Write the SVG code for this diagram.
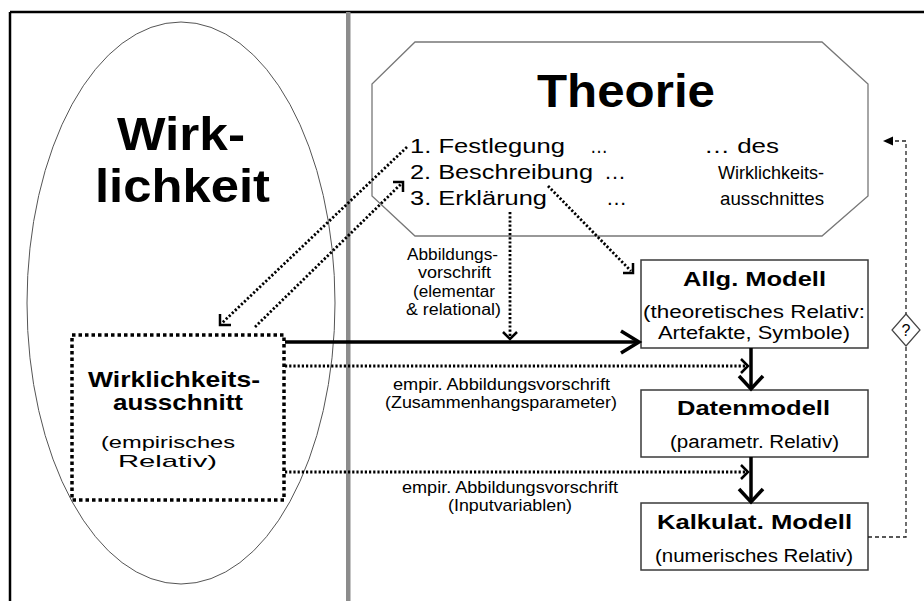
<svg xmlns="http://www.w3.org/2000/svg" width="924" height="601" viewBox="0 0 924 601">
<style>
text{font-family:"Liberation Sans",Arial,sans-serif;fill:#000}
.b{font-weight:bold}
.box{fill:#fff;stroke:#3a3a3a;stroke-width:1.5}
.thick{stroke:#000;stroke-width:3.5;fill:none}
.dot{stroke:#000;stroke-width:2.8;stroke-dasharray:2.2 2;fill:none}
.head{stroke:#000;stroke-width:2.5;fill:none}
.dash{stroke:#222;stroke-width:1.3;stroke-dasharray:4 3;fill:none}
</style>
<rect x="0" y="0" width="924" height="601" fill="#fff"/>
<g id="frame">
<path d="M10,12 H924 M10,12 V601" stroke="#000" stroke-width="2.5" fill="none"/>
<rect x="346" y="12" width="4.5" height="589" fill="#8c8c8c"/>
</g>
<g id="wirklichkeit">
<ellipse cx="181" cy="303" rx="154" ry="281" fill="none" stroke="#555" stroke-width="1"/>
<text class="b" x="117" y="150" font-size="46" textLength="128" lengthAdjust="spacingAndGlyphs">Wirk-</text>
<text class="b" x="95" y="202" font-size="46" textLength="175" lengthAdjust="spacingAndGlyphs">lichkeit</text>
</g>
<g id="theorie">
<polygon points="415,42 822,42 868,84 868,196 822,236 415,236 372,196 372,84" fill="#fff" stroke="#777" stroke-width="1.3"/>
<text class="b" x="537" y="107" font-size="46" textLength="178" lengthAdjust="spacingAndGlyphs">Theorie</text>
<text x="410" y="153" font-size="21" textLength="155" lengthAdjust="spacingAndGlyphs">1. Festlegung</text>
<text x="590" y="153" font-size="21" textLength="18" lengthAdjust="spacingAndGlyphs">…</text>
<text x="410" y="179" font-size="21" textLength="183" lengthAdjust="spacingAndGlyphs">2. Beschreibung</text>
<text x="604" y="179" font-size="21" textLength="22" lengthAdjust="spacingAndGlyphs">…</text>
<text x="410" y="205" font-size="21" textLength="137" lengthAdjust="spacingAndGlyphs">3. Erklärung</text>
<text x="606" y="205" font-size="21" textLength="21" lengthAdjust="spacingAndGlyphs">…</text>
<text x="704" y="153" font-size="20" textLength="75" lengthAdjust="spacingAndGlyphs">… des</text>
<text x="718" y="179" font-size="19" textLength="106" lengthAdjust="spacingAndGlyphs">Wirklichkeits-</text>
<text x="720" y="205" font-size="19" textLength="104" lengthAdjust="spacingAndGlyphs">ausschnittes</text>
</g>
<g id="ausschnitt">
<rect x="72" y="335" width="212" height="165" fill="none" stroke="#000" stroke-width="3.5" stroke-dasharray="3.5 3"/>
<text class="b" x="88" y="387" font-size="22" textLength="172" lengthAdjust="spacingAndGlyphs">Wirklichkeits-</text>
<text class="b" x="113" y="410" font-size="22" textLength="130" lengthAdjust="spacingAndGlyphs">ausschnitt</text>
<text x="101" y="448" font-size="17" textLength="134" lengthAdjust="spacingAndGlyphs">(empirisches</text>
<text x="118" y="467" font-size="17" textLength="99" lengthAdjust="spacingAndGlyphs">Relativ)</text>
</g>
<g id="allg-modell">
<rect class="box" x="641" y="260" width="227" height="88"/>
<text class="b" x="683" y="286" font-size="21" textLength="143" lengthAdjust="spacingAndGlyphs">Allg. Modell</text>
<text x="643" y="318" font-size="18" textLength="222" lengthAdjust="spacingAndGlyphs">(theoretisches Relativ:</text>
<text x="658" y="339" font-size="18" textLength="192" lengthAdjust="spacingAndGlyphs">Artefakte, Symbole)</text>
</g>
<g id="datenmodell">
<rect class="box" x="641" y="390" width="227" height="67"/>
<text class="b" x="677" y="415" font-size="21" textLength="153" lengthAdjust="spacingAndGlyphs">Datenmodell</text>
<text x="670" y="448" font-size="18" textLength="169" lengthAdjust="spacingAndGlyphs">(parametr. Relativ)</text>
</g>
<g id="kalkulat-modell">
<rect class="box" x="641" y="503" width="227" height="67"/>
<text class="b" x="657" y="529" font-size="21" textLength="195" lengthAdjust="spacingAndGlyphs">Kalkulat. Modell</text>
<text x="655" y="562" font-size="18" textLength="198" lengthAdjust="spacingAndGlyphs">(numerisches Relativ)</text>
</g>
<g id="connectors">
<path class="thick" d="M285,342 H638"/>
<path class="thick" d="M621,331 L639,342 L621,353"/>
<path class="dot" d="M510,212 V338"/>
<path class="head" d="M503,332 L510,339 L517,332"/>
<text x="407" y="260" font-size="16" textLength="91" lengthAdjust="spacingAndGlyphs">Abbildungs-</text>
<text x="418" y="278" font-size="16" textLength="73" lengthAdjust="spacingAndGlyphs">vorschrift</text>
<text x="413" y="297" font-size="16" textLength="82" lengthAdjust="spacingAndGlyphs">(elementar</text>
<text x="406" y="315" font-size="16" textLength="95" lengthAdjust="spacingAndGlyphs">&amp; relational)</text>
<path class="dot" d="M548,186 L631,271"/>
<path class="head" d="M623,273 L633,273 L633,263"/>
<path class="dot" d="M407,147 L222,323"/>
<path class="head" d="M220,314 L220,325 L231,325"/>
<path class="dot" d="M255,327 L401,184"/>
<path class="head" d="M393,182 L403,182 L403,192"/>
<path class="dot" d="M285,366 H746"/>
<path class="head" d="M741,359 L748,366 L741,373"/>
<text x="393" y="390" font-size="17" textLength="217" lengthAdjust="spacingAndGlyphs">empir. Abbildungsvorschrift</text>
<text x="385" y="408" font-size="17" textLength="232" lengthAdjust="spacingAndGlyphs">(Zusammenhangsparameter)</text>
<path class="dot" d="M285,472 H746"/>
<path class="head" d="M741,465 L748,472 L741,479"/>
<text x="402" y="493" font-size="17" textLength="216" lengthAdjust="spacingAndGlyphs">empir. Abbildungsvorschrift</text>
<text x="448" y="511" font-size="17" textLength="124" lengthAdjust="spacingAndGlyphs">(Inputvariablen)</text>
<path class="thick" d="M751,348 V388"/>
<path class="thick" d="M739,376 L751,389 L763,376"/>
<path class="thick" d="M751,457 V501"/>
<path class="thick" d="M739,489 L751,502 L763,489"/>
<path class="dash" d="M868,537 H906 V141 H890"/>
<polygon points="883,141 893,136.5 893,145.5" fill="#000"/>
<polygon points="906,314 920,330 906,346 892,330" fill="#fff" stroke="#444" stroke-width="1.2"/>
<text x="906" y="336" font-size="16" text-anchor="middle">?</text>
</g>
</svg>
